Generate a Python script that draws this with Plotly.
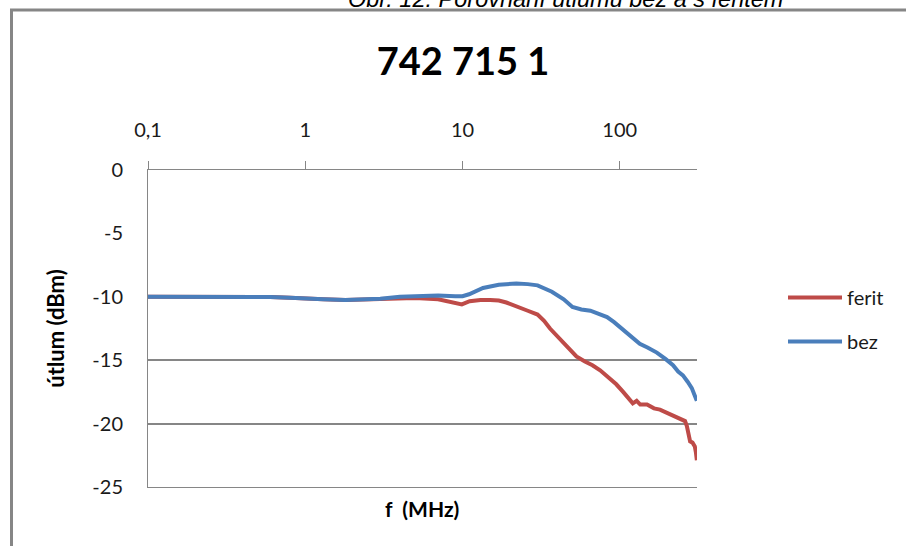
import plotly.graph_objects as go

# ---------------- data ----------------
freq_ferit = [0.1, 0.2, 0.4, 0.6, 0.8, 1.0, 1.3, 1.8, 2.5, 3.0, 4.0, 5.0, 7.0, 8.5, 9.9,
              11.1, 13.0, 15.0, 17.0, 19.0, 23.0, 26.0, 30.0, 33.0, 36.0, 40.0, 44.0,
              49.0, 53.0, 60.0, 67.0, 75.0, 86.0, 95.0, 105.0, 113.0, 121.0, 128.0,
              135.0, 149.0, 165.0, 180.0, 210.0, 241.0, 260.0, 267.0, 275.0, 280.0,
              290.0, 300.0, 305.0, 309.0]
ferit = [-10.0, -10.0, -10.0, -10.02, -10.08, -10.15, -10.2, -10.25, -10.22, -10.2, -10.1,
         -10.1, -10.2, -10.4, -10.6, -10.35, -10.25, -10.25, -10.3, -10.45, -10.8, -11.1,
         -11.4, -11.9, -12.5, -13.1, -13.7, -14.3, -14.7, -15.1, -15.4, -15.8, -16.4,
         -16.9, -17.5, -18.0, -18.4, -18.2, -18.5, -18.5, -18.8, -18.9, -19.3, -19.6,
         -19.8, -20.2, -21.0, -21.4, -21.5, -21.8, -22.3, -22.9]

freq_bez = [0.1, 0.2, 0.4, 0.6, 0.8, 1.0, 1.3, 1.8, 2.5, 3.0, 4.0, 5.0, 7.0, 9.0, 10.0,
            11.0, 13.5, 17.0, 22.0, 26.0, 30.0, 37.0, 44.0, 50.0, 57.0, 65.0, 75.0, 83.0,
            92.0, 100.0, 115.0, 134.0, 150.0, 172.0, 195.0, 218.0, 235.0, 252.0, 270.0,
            287.0, 300.0, 309.0]
bez = [-10.0, -10.0, -10.0, -10.02, -10.08, -10.15, -10.2, -10.25, -10.22, -10.15, -10.0,
       -9.95, -9.9, -9.95, -9.95, -9.8, -9.3, -9.05, -8.95, -9.0, -9.1, -9.6, -10.2, -10.8,
       -11.0, -11.1, -11.4, -11.6, -12.0, -12.4, -13.0, -13.7, -14.0, -14.4, -14.9, -15.4,
       -15.9, -16.2, -16.7, -17.2, -17.8, -18.2]

series_names = ["ferit", "bez"]
x_tick_vals = [0.1, 1, 10, 100]
x_tick_text = ["0,1", "1", "10", "100"]
y_tick_vals = [0, -5, -10, -15, -20, -25]
y_tick_text = ["0", "-5", "-10", "-15", "-20", "-25"]
y_grid_vals = [-15, -20, -25]

title_text = "742 715 1"
caption_text = "Obr. 12: Porovnání útlumu bez a s feritem"
y_title = "útlum (dBm)"
x_title = "f\u00a0 (MHz)"

# ---------------- layout geometry ----------------
W, H = 907, 546
PL, PR, PT, PB = 148, 697, 170, 487  # plot area in pixels


def px_x(px):
    return (px - PL) / (PR - PL)


def px_y(py):
    return (PB - py) / (PB - PT)


RED = "#BE4B48"
BLUE = "#4A7EBB"
GRID = "#868686"
FONT = "Lato, 'Open Sans', sans-serif"

fig = go.Figure()
fig.add_trace(go.Scatter(x=freq_ferit, y=ferit, mode="lines", name=series_names[0],
                         legendgroup="a", line=dict(color=RED, width=4)))
fig.add_trace(go.Scatter(x=freq_bez, y=bez, mode="lines", name=series_names[1],
                         legendgroup="b", line=dict(color=BLUE, width=4)))

fig.update_layout(
    width=W, height=H,
    margin=dict(l=PL, r=W - PR, t=PT, b=H - PB, pad=0),
    paper_bgcolor="white", plot_bgcolor="white",
    font=dict(family=FONT, size=20, color="#1a1a1a"),
    title=dict(text="<b>" + title_text + "</b>", x=463 / W, xanchor="center",
               y=1 - 62 / H, yanchor="middle",
               font=dict(family=FONT, size=38, color="#000000")),
    showlegend=True,
    legend=dict(x=px_x(783), y=px_y(278), xanchor="left", yanchor="top",
                font=dict(family=FONT, size=20, color="#1a1a1a"),
                tracegroupgap=15, bgcolor="rgba(0,0,0,0)", itemwidth=54),
    xaxis=dict(type="log", range=[-1, 2.491], side="top",
               tickmode="array", tickvals=x_tick_vals, ticktext=x_tick_text,
               ticks="outside", ticklen=8, tickwidth=1, tickcolor=GRID,
               ticklabelstandoff=16,
               showline=True, linecolor=GRID, linewidth=1, mirror=True,
               showgrid=False, zeroline=False,
               tickfont=dict(family=FONT, size=20, color="#1a1a1a")),
    yaxis=dict(range=[-25, 0], tickmode="array", tickvals=y_tick_vals,
               ticktext=y_tick_text,
               ticks="", showline=True, linecolor=GRID, linewidth=1,
               showgrid=False, zeroline=False, ticklabelstandoff=20,
               minor=dict(tickmode="array", tickvals=y_grid_vals, showgrid=True,
                          gridcolor=GRID, gridwidth=1.5, ticks=""),
               tickfont=dict(family=FONT, size=20, color="#1a1a1a"),
               title=dict(text="<b>" + y_title + "</b>", standoff=21,
                          font=dict(family=FONT, size=22, color="#000000"))),
)

# x-axis title at the bottom (axis itself is on top)
fig.add_annotation(text="<b>" + x_title + "</b>", xref="paper", yref="paper",
                   x=px_x(422), y=px_y(508), xanchor="center", yanchor="middle",
                   showarrow=False, font=dict(family=FONT, size=21, color="#000000"))

# cut-off caption at the very top
fig.add_annotation(text=caption_text, xref="paper", yref="paper",
                   x=px_x(565), y=px_y(14), xanchor="center", yanchor="bottom",
                   showarrow=False,
                   font=dict(family="'Liberation Sans', Arial, sans-serif", size=23.5,
                             color="#000000", style="italic"))

# outer chart frame (left and top edges)
fig.add_shape(type="line", xref="paper", yref="paper",
              x0=px_x(11.5), x1=px_x(11.5), y0=px_y(9), y1=px_y(560),
              line=dict(color=GRID, width=3))
fig.add_shape(type="line", xref="paper", yref="paper",
              x0=px_x(10), x1=px_x(906), y0=px_y(10), y1=px_y(10),
              line=dict(color=GRID, width=3))

fig.write_html("out.html", config={"displayModeBar": False},
               post_script="document.body.style.margin='0';document.body.style.overflow='hidden';")
